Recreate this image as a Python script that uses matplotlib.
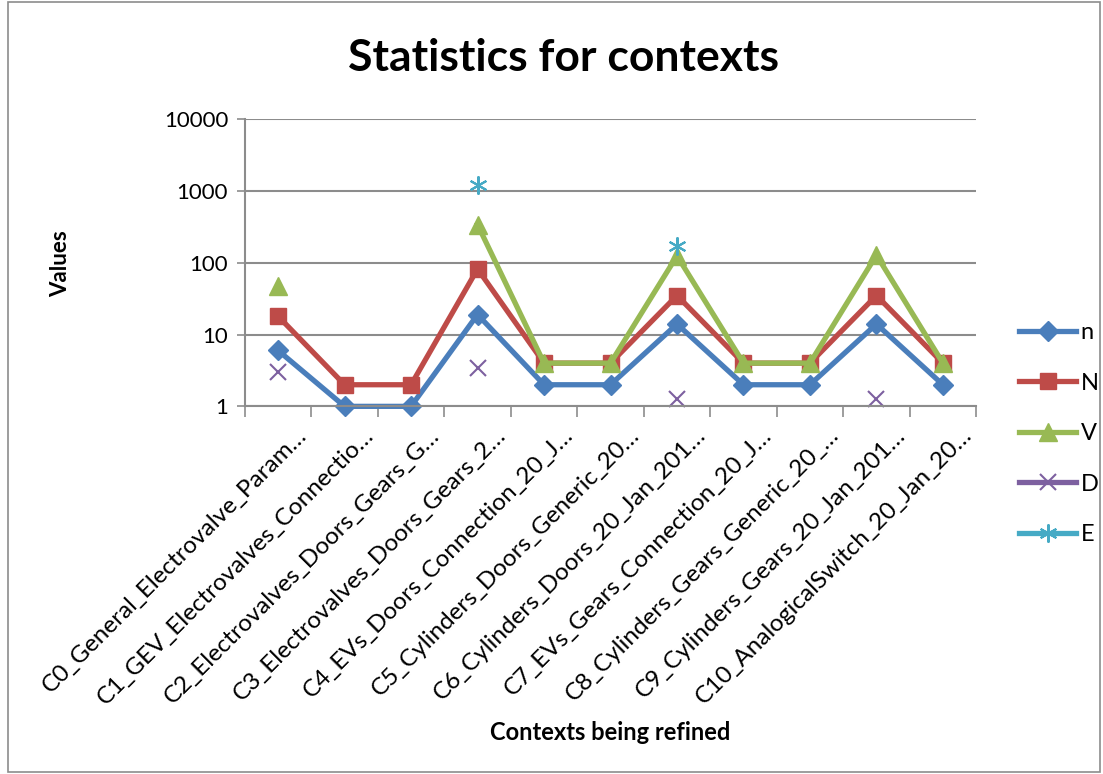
import numpy as np
import matplotlib.pyplot as plt
from matplotlib.patches import Rectangle

plt.rcParams['font.family'] = ['Lato', 'DejaVu Sans']

labels = [
    "C0_General_Electrovalve_Param\u2026",
    "C1_GEV_Electrovalves_Connectio\u2026",
    "C2_Electrovalves_Doors_Gears_G\u2026",
    "C3_Electrovalves_Doors_Gears_2\u2026",
    "C4_EVs_Doors_Connection_20_J\u2026",
    "C5_Cylinders_Doors_Generic_20\u2026",
    "C6_Cylinders_Doors_20_Jan_201\u2026",
    "C7_EVs_Gears_Connection_20_J\u2026",
    "C8_Cylinders_Gears_Generic_20_\u2026",
    "C9_Cylinders_Gears_20_Jan_201\u2026",
    "C10_AnalogicalSwitch_20_Jan_20\u2026",
]

nan = np.nan
n_vals = [6, 1, 1, 19, 2, 2, 14, 2, 2, 14, 2]
N_vals = [18, 2, 2, 82, 4, 4, 35, 4, 4, 35, 4]
V_vals = [47, nan, nan, 340, 4, 4, 125, 4, 4, 128, 4]
D_vals = [3, nan, nan, 3.4, nan, nan, 1.25, nan, nan, 1.25, nan]
E_vals = [nan, nan, nan, 1200, nan, nan, 170, nan, nan, nan, nan]

series = [
    ("n", n_vals, "#4A7EBB", "D", 10),
    ("N", N_vals, "#BE4B48", "s", 12),
    ("V", V_vals, "#98B954", "^", 13),
    ("D", D_vals, "#7D60A0", "x", 11),
    ("E", E_vals, "#46AAC5", (6, 2, 0), 13),
]

fig = plt.figure(figsize=(11.03, 7.74), dpi=100)
fig.patches.append(Rectangle((0.007, 0.002), 0.99, 0.995, transform=fig.transFigure,
                             fill=False, edgecolor="#8C8C8C", linewidth=1.2))
ax = fig.add_axes([0.222, 0.475, 0.663, 0.371])

x = np.arange(len(labels))
for name, vals, color, marker, ms in series:
    mew = 1.5 if marker in ("x", (6, 2, 0)) else 1
    ax.plot(x, vals, color=color, linewidth=3.8, marker=marker, markersize=ms,
            markeredgewidth=mew, markeredgecolor=color, label=name, clip_on=False)

ax.set_yscale("log")
ax.set_ylim(1, 10000)
ax.set_xlim(-0.5, len(labels) - 0.5)
ax.set_yticks([1, 10, 100, 1000, 10000])
ax.set_yticklabels(["1", "10", "100", "1000", "10000"], fontsize=16)
ax.yaxis.set_minor_locator(plt.NullLocator())
ax.grid(axis="y", color="#8C8C8C", linewidth=1.5)
ax.set_axisbelow(True)

ax.set_xticks(np.arange(-0.5, len(labels), 1.0))
ax.set_xticklabels([])
ax.tick_params(axis="x", length=8, width=1.2, color="#8C8C8C", direction="out")
ax.tick_params(axis="y", length=6, width=1.2, color="#8C8C8C", direction="out", pad=6)
for i, lab in enumerate(labels):
    ax.annotate(lab, xy=(i, 0), xycoords=("data", "axes fraction"),
                xytext=(13, -13), textcoords="offset points",
                rotation=45, ha="right", va="top", rotation_mode="anchor",
                fontsize=17.5)

for side in ("top", "right"):
    ax.spines[side].set_visible(False)
for side in ("left", "bottom"):
    ax.spines[side].set_color("#8C8C8C")
    ax.spines[side].set_linewidth(1.5)

fig.text(0.511, 0.925, "Statistics for contexts", ha="center", va="center",
         fontsize=32, fontweight="bold")
fig.text(0.055, 0.66, "Values", ha="center", va="center", rotation=90,
         fontsize=16, fontweight="bold")
fig.text(0.553, 0.053, "Contexts being refined", ha="center", va="center",
         fontsize=17, fontweight="bold")

ax.legend(loc="center left", bbox_to_anchor=(1.03, -0.095), frameon=False,
          fontsize=17, handlelength=2.4, labelspacing=1.25, handletextpad=0.2)

fig.savefig("out.png", dpi=100)
